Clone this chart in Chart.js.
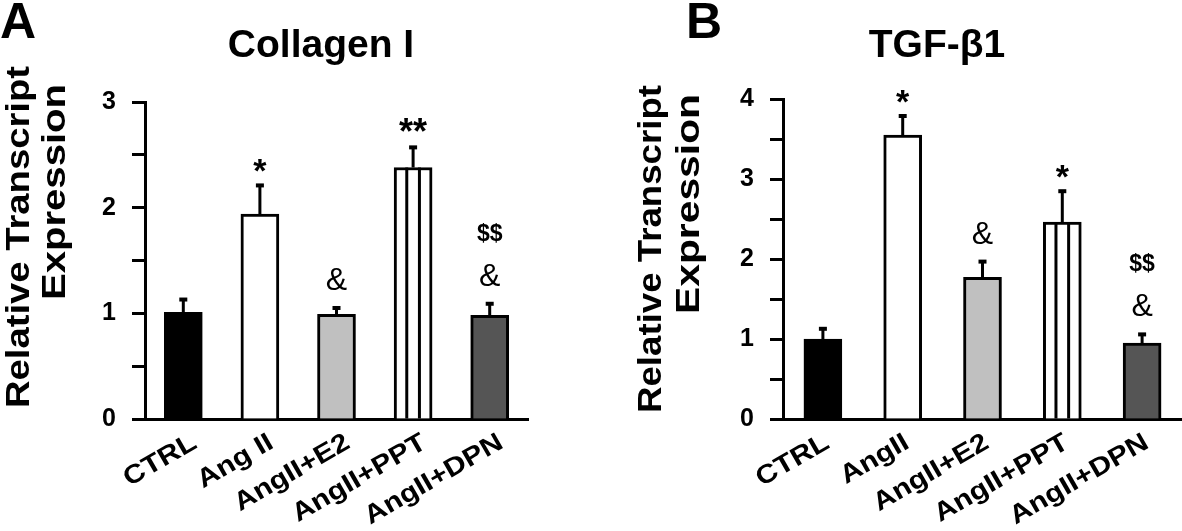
<!DOCTYPE html>
<html>
<head>
<meta charset="utf-8">
<script src="https://cdn.jsdelivr.net/npm/chart.js@4.4.0/dist/chart.umd.min.js"></script>
<style>
  html, body { margin: 0; padding: 0; background: #fff; }
  #wrap { position: relative; width: 1182px; height: 531px; overflow: hidden; }
  #boxA { position: absolute; left: 0; top: 0; width: 560px; height: 531px; }
  #boxB { position: absolute; left: 600px; top: 0; width: 582px; height: 531px; }
</style>
</head>
<body>
<div id="wrap">
  <div id="boxA"><canvas id="chartCollagen"></canvas></div>
  <div id="boxB"><canvas id="chartTgf"></canvas></div>
</div>
<script>
// groups
const groupsA = ['CTRL', 'Ang II', 'AngII+E2', 'AngII+PPT', 'AngII+DPN'];
const groupsB = ['CTRL', 'AngII', 'AngII+E2', 'AngII+PPT', 'AngII+DPN'];

// Collagen I (panel A)
const collagenMean = [1.01, 1.94, 0.99, 2.38, 0.98];
const collagenErr = [0.13, 0.28, 0.07, 0.20, 0.12];
const collagenMarks = [[], ['*'], ['&'], ['**'], ['&', '$$']];
const collagenMax = 3;

// TGF-b1 (panel B)
const tgfMean = [1.00, 3.55, 1.77, 2.46, 0.95];
const tgfErr = [0.14, 0.25, 0.21, 0.40, 0.12];
const tgfMarks = [[], ['*'], ['&'], ['*'], ['&', '$$']];
const tgfMax = 4;

const barColors = ['#000000', '#ffffff', '#c0c0c0', '#ffffff', '#555555'];
const striped = [false, false, false, true, false];

const FONT = '"Liberation Sans", Arial, Helvetica, sans-serif';

// font + lift above error cap for the significance symbols
const markStyle = {
  '*':  { font: 'bold 34px ' + FONT, lift: 2 },
  '**': { font: 'bold 36px ' + FONT, lift: 2 },
  '&':  { font: '32px ' + FONT, lift: 17 },
  '$$': { font: 'bold 23px ' + FONT, lift: 17 }
};

// stretched text helper (the figure's rotated labels are wider than plain Arial)
function drawStretched(ctx, text, x, y, angle, width) {
  ctx.save();
  ctx.translate(x, y);
  ctx.rotate(angle);
  const w = ctx.measureText(text).width;
  ctx.scale(width ? width / w : 1.15, 1);
  ctx.fillText(text, 0, 0);
  ctx.restore();
}

// error bars, stripes, symbols and texts
const extrasPlugin = {
  id: 'extras',
  afterDatasetsDraw(chart, args, opts) {
    const ctx = chart.ctx;
    const yScale = chart.scales.y;
    const meta = chart.getDatasetMeta(0);
    ctx.save();
    meta.data.forEach((bar, i) => {
      const left = bar.x - bar.width / 2;
      // vertical stripes
      if (opts.striped[i]) {
        ctx.strokeStyle = '#000';
        ctx.lineWidth = 3;
        [1, 2].forEach(k => {
          const x = left + bar.width * k / 3;
          ctx.beginPath();
          ctx.moveTo(x, bar.y);
          ctx.lineTo(x, bar.base);
          ctx.stroke();
        });
      }
      // error bar
      const top = yScale.getPixelForValue(opts.mean[i] + opts.err[i]);
      ctx.strokeStyle = '#000';
      ctx.lineWidth = 3;
      ctx.beginPath();
      ctx.moveTo(bar.x, bar.y);
      ctx.lineTo(bar.x, top);
      ctx.stroke();
      ctx.fillStyle = '#000';
      ctx.fillRect(bar.x - 4, top - 1, 8, 4);
      // symbols
      ctx.textAlign = 'center';
      ctx.textBaseline = 'alphabetic';
      opts.marks[i].forEach((m, level) => {
        const st = markStyle[m];
        ctx.font = st.font;
        ctx.fillText(m, bar.x, top - st.lift - level * 45);
      });
    });
    ctx.restore();
  },
  afterDraw(chart, args, opts) {
    const ctx = chart.ctx;
    const xScale = chart.scales.x;
    ctx.save();
    ctx.fillStyle = '#000';
    // rotated category labels
    ctx.font = 'bold 26px ' + FONT;
    ctx.textAlign = 'right';
    ctx.textBaseline = 'alphabetic';
    chart.data.labels.forEach((lab, i) => {
      const x = xScale.getPixelForTick(i) + opts.labelDx;
      drawStretched(ctx, lab, x, xScale.top + 28, -30 * Math.PI / 180, null);
    });
    // panel letter
    ctx.textAlign = 'left';
    ctx.font = 'bold 50px ' + FONT;
    ctx.fillText(opts.letter, opts.letterX, 38);
    // title
    ctx.textAlign = 'center';
    ctx.font = 'bold 39px ' + FONT;
    ctx.fillText(opts.title, opts.titleX, 57);
    // y title, two lines
    ctx.font = 'bold 33px ' + FONT;
    ctx.textBaseline = 'middle';
    opts.yTitle.forEach(t => {
      drawStretched(ctx, t.text, t.x, t.y, -Math.PI / 2, t.len);
    });
    ctx.restore();
  }
};

function makePanel(id, labels, mean, err, marks, yMax, yWidth, pad, extras) {
  return new Chart(document.getElementById(id).getContext('2d'), {
    type: 'bar',
    data: {
      labels: labels,
      datasets: [{
        data: mean,
        backgroundColor: barColors,
        borderColor: '#000',
        borderWidth: 3,
        barThickness: 38
      }]
    },
    options: {
      responsive: true,
      maintainAspectRatio: false,
      animation: false,
      layout: { padding: pad },
      plugins: {
        legend: { display: false },
        tooltip: { enabled: false },
        extras: Object.assign({ mean: mean, err: err, marks: marks, striped: striped }, extras)
      },
      scales: {
        x: {
          grid: { display: false },
          border: { display: true, color: '#000', width: 3 },
          ticks: { display: false },
          afterFit(scale) {
            scale.height = 531 - 419 - pad.bottom;
            scale.paddingLeft = 0;
            scale.paddingRight = 0;
          }
        },
        y: {
          min: 0,
          max: yMax,
          grid: {
            drawOnChartArea: false,
            drawTicks: true,
            tickLength: 13,
            tickColor: '#000',
            tickWidth: 3
          },
          border: { color: '#000', width: 3 },
          ticks: {
            stepSize: 0.5,
            color: '#000',
            padding: 16,
            font: { family: FONT, size: 25, weight: 'bold' },
            callback: v => (Number.isInteger(v) ? String(v) : '')
          },
          afterFit(scale) {
            scale.width = yWidth;
            scale.paddingTop = 0;
            scale.paddingBottom = 0;
          }
        }
      }
    },
    plugins: [extrasPlugin]
  });
}

makePanel('chartCollagen', groupsA, collagenMean, collagenErr, collagenMarks, collagenMax,
  145, { top: 102, right: 32, bottom: 0, left: 0 },
  {
    letter: 'A', letterX: 0, title: 'Collagen I', titleX: 321, labelDx: 15,
    yTitle: [
      { text: 'Relative Transcript', x: 20, y: 237, len: 342 },
      { text: 'Expression', x: 56, y: 192, len: 216 }
    ]
  });

makePanel('chartTgf', groupsB, tgfMean, tgfErr, tgfMarks, tgfMax,
  183, { top: 99, right: 0, bottom: 0, left: 0 },
  {
    letter: 'B', letterX: 86, title: 'TGF-\u03b21', titleX: 337, labelDx: 8,
    yTitle: [
      { text: 'Relative Transcript', x: 52, y: 249, len: 328 },
      { text: 'Expression', x: 90, y: 204, len: 220 }
    ]
  });
</script>
</body>
</html>
